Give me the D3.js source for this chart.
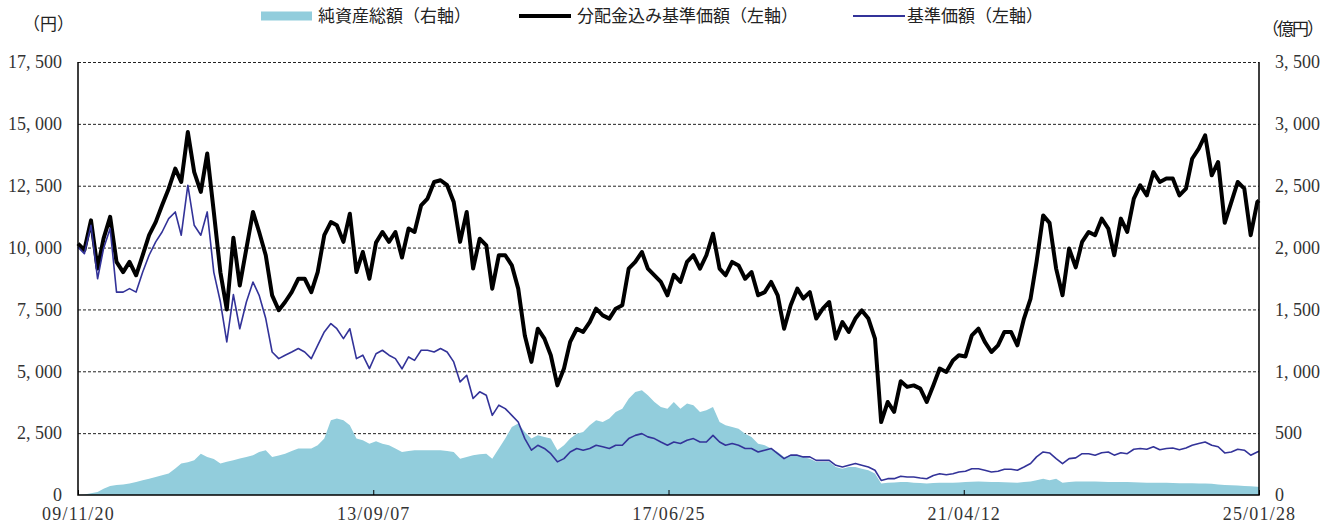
<!DOCTYPE html>
<html lang="ja">
<head>
<meta charset="utf-8">
<script src="https://cdn.jsdelivr.net/npm/d3@7"></script>
<style>
  body { margin: 0; background: #fff; }
  svg { display: block; }
  .jp { font-family: "Noto Sans CJK JP", "Noto Sans", sans-serif; fill: #222; }
  .num text { font-family: "Liberation Serif", "DejaVu Serif", serif; fill: #333; }
</style>
</head>
<body>
<svg id="chart" width="1326" height="524"></svg>
<script>
/* ==========================================================
   純資産総額 / 分配金込み基準価額 / 基準価額 — monthly readings
   ========================================================== */

// first point 09/11/20, then one point per month, last point 25/01/28
const startDate = new Date(2009, 10, 20);
const endDate = new Date(2025, 0, 28);

const xTickDates = ["2009-11-20", "2013-09-07", "2017-06-25", "2021-04-12", "2025-01-28"];
const leftTicks = [0, 2500, 5000, 7500, 10000, 12500, 15000, 17500];
const rightTicks = [0, 500, 1000, 1500, 2000, 2500, 3000, 3500];

// 分配金込み基準価額（円）
const navWithDiv = [
    10160, 9900, 11100, 9150, 10360, 11240, 9420, 9010, 9420, 8880,
    9690, 10500, 11030, 11710, 12380, 13190, 12650, 14670, 13050, 12250,
    13800, 11440, 9000, 7500, 10400, 8470, 9960, 11440, 10630, 9690,
    8070, 7470, 7800, 8200, 8740, 8740, 8200, 9010, 10500, 11030,
    10900, 10230, 11370, 9010, 9820, 8740, 10200, 10630, 10230, 10630,
    9600, 10770, 10630, 11710, 11980, 12650, 12720, 12520, 11840, 10230,
    11440, 9150, 10360, 10090, 8340, 9690, 9690, 9280, 8340, 6450,
    5380, 6720, 6320, 5650, 4430, 5110, 6190, 6720, 6590, 6990,
    7530, 7260, 7130, 7530, 7670, 9150, 9420, 9820, 9150, 8880,
    8610, 8070, 8900, 8610, 9420, 9690, 9150, 9690, 10560, 9150,
    8880, 9420, 9280, 8740, 9010, 8070, 8200, 8610, 8070, 6720,
    7670, 8340, 7940, 8200, 7130, 7530, 7800, 6320, 6990, 6590,
    7130, 7460, 7130, 6320, 2950, 3760, 3360, 4600, 4370, 4430,
    4300, 3760, 4430, 5110, 4970, 5440, 5650, 5600, 6450, 6720,
    6190, 5780, 6050, 6590, 6590, 6050, 7130, 7940, 9420, 11300,
    11000, 9150, 8070, 9960, 9200, 10230, 10630, 10500, 11170, 10770,
    9690, 11170, 10630, 11980, 12520, 12110, 13050, 12650, 12790, 12790,
    12110, 12380, 13590, 14000, 14540, 12920, 13460, 11000, 11840, 12650,
    12380, 10500, 11840, 11900
];

// 基準価額（円）
const nav = [
    10020, 9750, 10900, 8740, 9960, 10770, 8200, 8200, 8340, 8200,
    9010, 9690, 10230, 10630, 11170, 11440, 10500, 12520, 10900, 10500,
    11440, 9000, 7800, 6190, 8100, 6720, 7800, 8610, 8070, 7130,
    5780, 5510, 5650, 5780, 5920, 5780, 5510, 6050, 6590, 6930,
    6720, 6320, 6720, 5510, 5650, 5110, 5710, 5850, 5650, 5510,
    5100, 5580, 5440, 5850, 5850, 5780, 5920, 5780, 5380, 4570,
    4840, 3900, 4170, 4030, 3220, 3630, 3490, 3220, 2950, 2280,
    1810, 2010, 1880, 1670, 1340, 1470, 1740, 1880, 1810, 1880,
    2010, 1950, 1880, 2010, 2010, 2280, 2410, 2480, 2350, 2280,
    2140, 2010, 2140, 2080, 2210, 2280, 2140, 2140, 2410, 2140,
    2010, 2080, 2010, 1880, 1880, 1740, 1810, 1880, 1670, 1470,
    1610, 1610, 1540, 1540, 1400, 1400, 1400, 1200, 1130, 1200,
    1270, 1200, 1130, 1000, 590, 660, 660, 760, 730, 730,
    690, 660, 790, 860, 820, 860, 930, 960, 1060, 1060,
    1000, 930, 960, 1040, 1040, 1000, 1130, 1270, 1540, 1740,
    1700, 1470, 1270, 1470, 1500, 1670, 1670, 1610, 1710, 1740,
    1610, 1710, 1670, 1850, 1880, 1850, 1950, 1830, 1880, 1900,
    1830, 1900, 2010, 2080, 2140, 2010, 1950, 1700, 1740, 1850,
    1810, 1610, 1740, 1770
];

// 純資産総額（億円）
const netAssets = [
    0, 5, 15, 25, 50, 73, 80, 85, 92, 105,
    120, 132, 145, 160, 173, 215, 254, 265, 280, 334,
    308, 290, 254, 268, 280, 295, 308, 321, 348, 362,
    308, 320, 334, 355, 375, 375, 375, 402, 456, 604,
    618, 604, 563, 456, 442, 415, 435, 415, 402, 375,
    348, 355, 362, 362, 362, 362, 362, 355, 348, 294,
    308, 321, 330, 334, 294, 375, 456, 550, 577, 509,
    456, 483, 469, 456, 362, 402, 456, 496, 509, 563,
    604, 590, 618, 671, 698, 779, 833, 846, 806, 752,
    711, 698, 752, 698, 739, 725, 671, 685, 711, 591,
    563, 550, 536, 496, 469, 415, 402, 375, 348, 308,
    321, 321, 308, 294, 268, 268, 268, 227, 213, 227,
    227, 213, 200, 173, 92, 100, 102, 105, 105, 100,
    98, 92, 96, 100, 100, 100, 102, 105, 108, 110,
    108, 105, 105, 103, 102, 100, 105, 110, 120, 132,
    120, 132, 100, 105, 110, 110, 110, 110, 108, 105,
    105, 105, 105, 103, 102, 100, 100, 100, 100, 98,
    95, 94, 94, 93, 92, 90, 85, 80, 78, 76,
    73, 70, 66, 65
];

const legendItems = [
    { label: "純資産総額（右軸）", kind: "area" },
    { label: "分配金込み基準価額（左軸）", kind: "thick" },
    { label: "基準価額（左軸）", kind: "thin" }
];

// ==========================================================
// DRAW
// ==========================================================

function pointDate(i, n) {
    return i === n - 1 ? endDate : d3.timeMonth.offset(startDate, i);
}

function toPoints(values) {
    return values.map((v, i) => ({ date: pointDate(i, values.length), v }));
}

function drawChart() {
    const svg = d3.select("#chart");
    const margin = { left: 78, right: 67, top: 62, bottom: 29 };
    const W = 1326, H = 524;
    const x0 = margin.left, x1 = W - margin.right;
    const y0 = H - margin.bottom, y1 = margin.top;

    const x = d3.scaleTime().domain([startDate, endDate]).range([x0, x1]);
    const yL = d3.scaleLinear().domain([0, 17500]).range([y0, y1]);
    const yR = d3.scaleLinear().domain([0, 3500]).range([y0, y1]);

    const numFmt = d => d3.format(",")(d).replace(",", ", ");

    // dashed grid
    svg.append("g")
        .attr("transform", `translate(${x0},0)`)
        .call(d3.axisLeft(yL).tickValues(leftTicks.filter(d => d > 0)).tickSize(-(x1 - x0)).tickFormat(""))
        .call(g => g.select(".domain").remove())
        .call(g => g.selectAll("line")
            .attr("stroke", "#222")
            .attr("stroke-width", 1)
            .attr("stroke-dasharray", "3,2"));

    // net assets area (right axis)
    const area = d3.area()
        .x(d => x(d.date))
        .y0(yR(0))
        .y1(d => yR(d.v));
    svg.append("path")
        .datum(toPoints(netAssets))
        .attr("fill", "#92cddc")
        .attr("d", area);

    // lines (left axis)
    const line = d3.line()
        .x(d => x(d.date))
        .y(d => yL(d.v));

    svg.append("path")
        .datum(toPoints(navWithDiv))
        .attr("fill", "none")
        .attr("stroke", "#000")
        .attr("stroke-width", 4)
        .attr("stroke-linejoin", "round")
        .attr("d", line);

    svg.append("path")
        .datum(toPoints(nav))
        .attr("fill", "none")
        .attr("stroke", "#333399")
        .attr("stroke-width", 1.6)
        .attr("stroke-linejoin", "round")
        .attr("d", line);

    // axes
    svg.append("g")
        .attr("class", "num")
        .attr("transform", `translate(${x0},0)`)
        .call(d3.axisLeft(yL).tickValues(leftTicks).tickSize(0).tickPadding(16).tickFormat(numFmt))
        .call(g => g.select(".domain").remove())
        .call(g => g.selectAll("text").attr("font-size", 18));

    svg.append("g")
        .attr("class", "num")
        .attr("transform", `translate(${x1},0)`)
        .call(d3.axisRight(yR).tickValues(rightTicks).tickSize(0).tickPadding(16).tickFormat(numFmt))
        .call(g => g.select(".domain").remove())
        .call(g => g.selectAll("text").attr("font-size", 18));

    svg.append("g")
        .attr("class", "num")
        .attr("transform", `translate(0,${y0})`)
        .call(d3.axisBottom(x)
            .tickValues(xTickDates.map(d3.timeParse("%Y-%m-%d")))
            .tickSize(-5).tickPadding(12)
            .tickFormat(d3.timeFormat("%y/%m/%d")))
        .call(g => g.select(".domain").remove())
        .call(g => g.selectAll("line").attr("stroke", "#000"))
        .call(g => g.selectAll("text").attr("font-size", 18).attr("letter-spacing", 1.2));

    // frame: left, right, bottom
    svg.append("path")
        .attr("fill", "none")
        .attr("stroke", "#000")
        .attr("stroke-width", 1.5)
        .attr("d", `M${x0},${y1}V${y0}H${x1}V${y1}`);

    // unit labels
    svg.append("text").attr("class", "jp")
        .attr("x", 23).attr("y", 30).attr("font-size", 17)
        .text("（円）");
    svg.append("text").attr("class", "jp")
        .attr("x", 1322).attr("y", 35).attr("font-size", 17)
        .attr("text-anchor", "end")
        .attr("letter-spacing", -2)
        .text("（億円）");

    // legend
    const legendX = [261, 519, 853];
    const legendTextX = [318, 577, 907];
    const ly = 16;
    const lg = svg.append("g");
    legendItems.forEach((item, i) => {
        if (item.kind === "area") {
            lg.append("rect")
                .attr("x", legendX[i]).attr("y", ly - 4.5)
                .attr("width", 51).attr("height", 9)
                .attr("fill", "#92cddc");
        } else {
            lg.append("line")
                .attr("x1", legendX[i]).attr("x2", legendX[i] + 52)
                .attr("y1", ly).attr("y2", ly)
                .attr("stroke", item.kind === "thick" ? "#000" : "#333399")
                .attr("stroke-width", item.kind === "thick" ? 4 : 2);
        }
        lg.append("text").attr("class", "jp")
            .attr("x", legendTextX[i]).attr("y", ly)
            .attr("dy", "0.36em")
            .attr("font-size", 17)
            .text(item.label);
    });
}

document.addEventListener("DOMContentLoaded", drawChart);
</script>
</body>
</html>
